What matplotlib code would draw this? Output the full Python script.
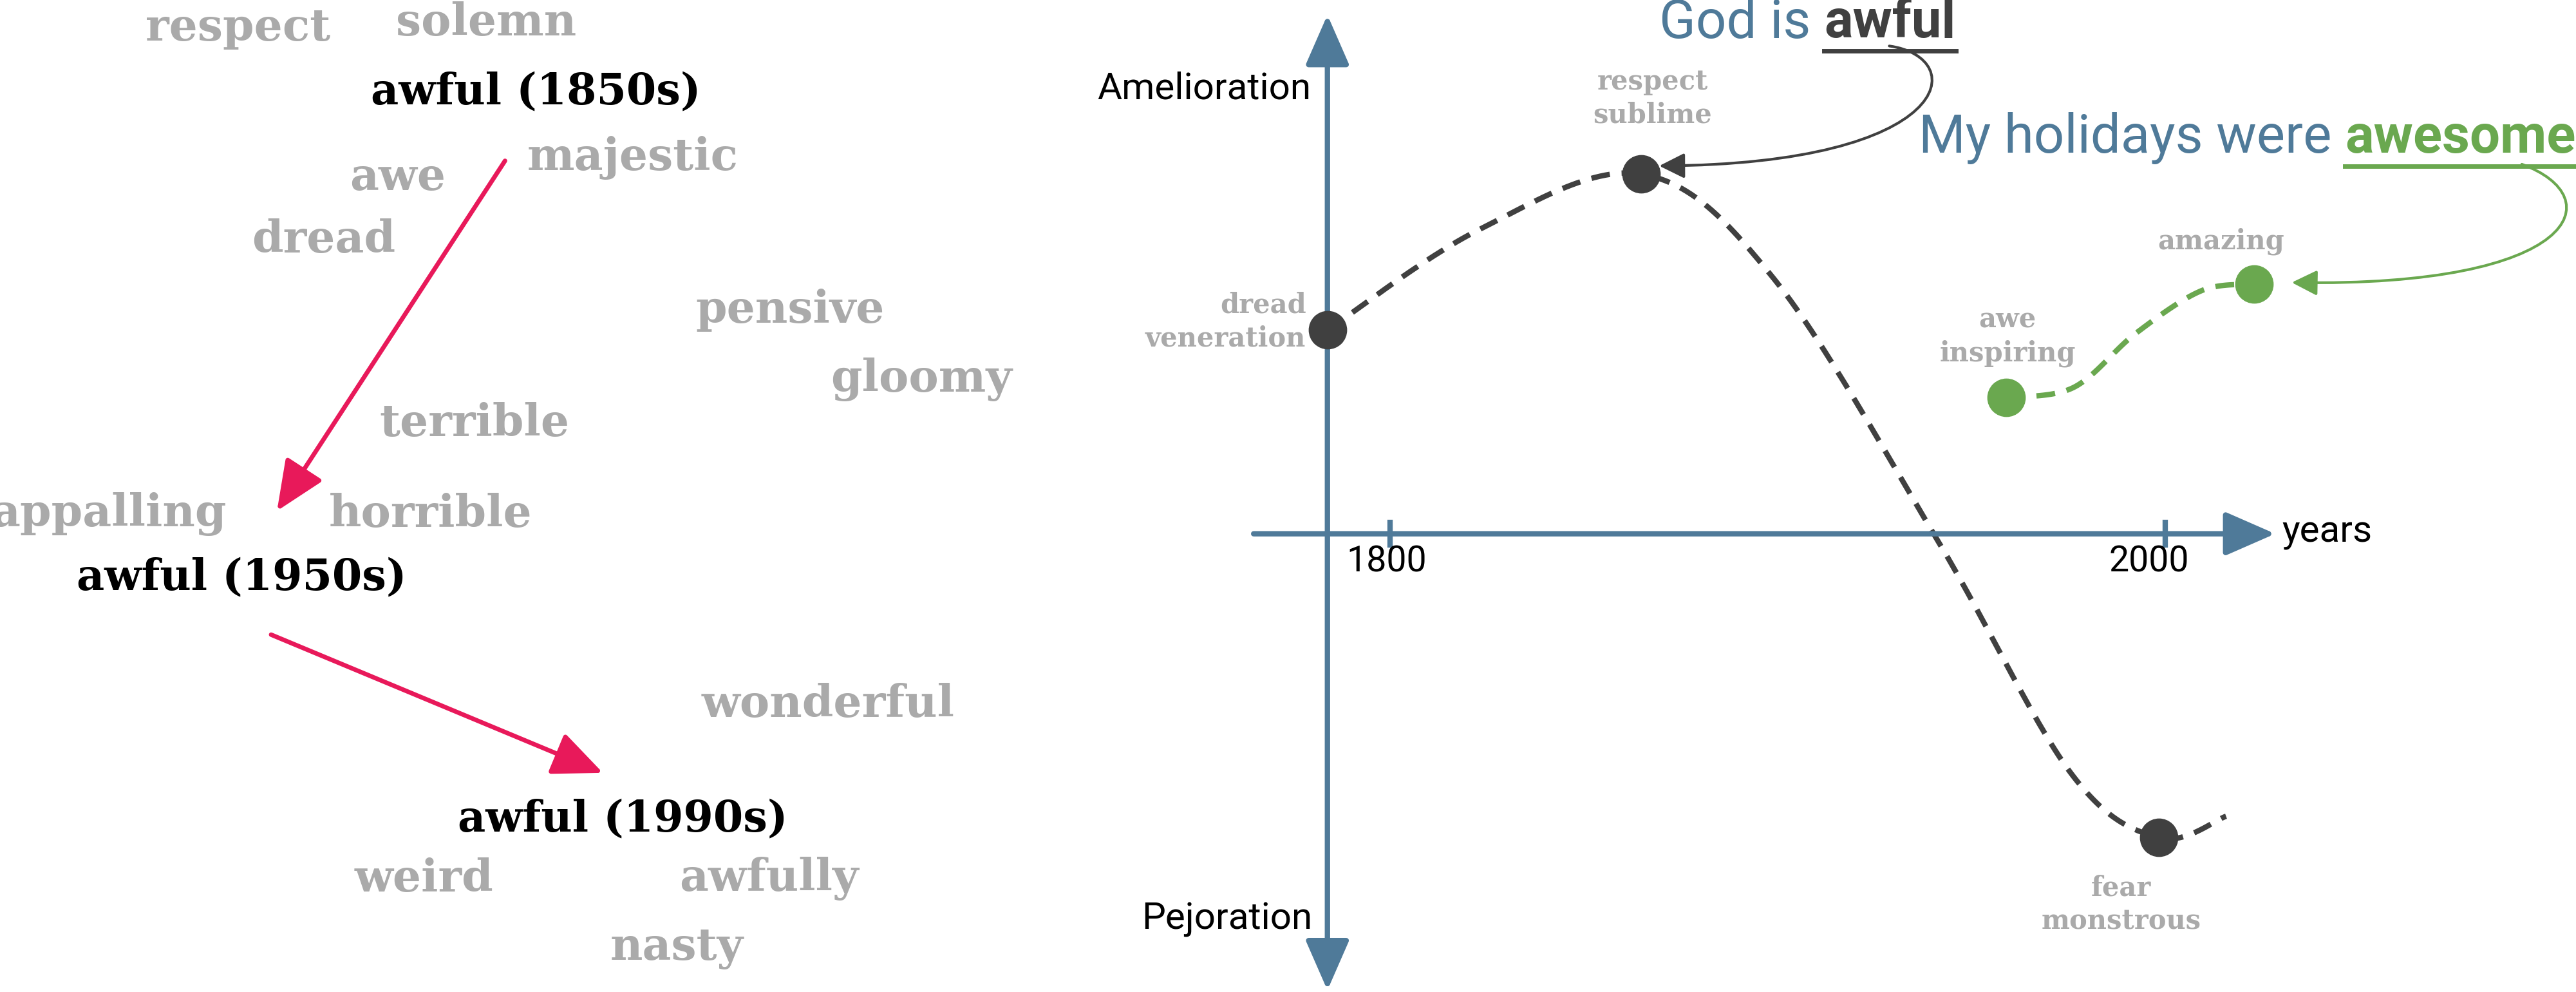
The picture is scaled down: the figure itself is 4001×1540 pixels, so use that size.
import matplotlib
matplotlib.use("Agg")
import matplotlib.pyplot as plt
import numpy as np
from matplotlib.path import Path
from matplotlib.patches import FancyArrowPatch

W, H = 1568, 604
# left: word embedding neighbours (x, y in reference layout units)
words = ["respect", "solemn", "awe", "majestic", "dread", "pensive", "gloomy", "terrible",
         "appalling", "horrible", "wonderful", "weird", "awfully", "nasty"]
words_x = [145, 296, 242, 385, 197, 481, 561, 289, 66, 262, 504, 258, 468, 412]
words_y = [17, 14, 108, 96, 146, 189, 231, 258, 313, 313, 429, 535, 535, 577]
decades = ["awful (1850s)", "awful (1950s)", "awful (1990s)"]
decades_x = [326, 147, 379]
decades_y = [56, 352, 499]
arrows = [((308, 97), (168, 312)), ((164, 386), (368, 471))]

# right: semantic change curves
black_x = [808, 900, 999, 1080, 1180, 1260, 1314, 1355]
black_y = [201, 140, 106, 170, 330, 470, 510, 497]
black_pts = [(808, 201), (999, 106), (1314, 510)]
green_x = [1221, 1262, 1300, 1340, 1372]
green_y = [242, 236, 203, 177, 173]
green_pts = [(1221, 242), (1372, 173)]
point_labels = ["dread\nveneration", "respect\nsublime", "fear\nmonstrous", "awe\ninspiring", "amazing"]
tick_labels = ["1800", "2000"]

BLUE = "#4f7a99"; GRAY = "#aaaaaa"; DARK = "#404040"; GREEN = "#6aa84f"; RED = "#e8195a"

def catmull(xs, ys, n=30):
    P = np.array(list(zip(xs, ys)), float)
    P = np.vstack([P[0], P, P[-1]])
    out = []
    for i in range(1, len(P) - 2):
        p0, p1, p2, p3 = P[i-1], P[i], P[i+1], P[i+2]
        for t in np.linspace(0, 1, n, endpoint=False):
            out.append(0.5*((2*p1) + (-p0+p2)*t + (2*p0-5*p1+4*p2-p3)*t**2 + (-p0+3*p1-3*p2+p3)*t**3))
    out.append(P[-2])
    return np.array(out)

fig = plt.figure(figsize=(40.01, 15.4), dpi=100)
ax = fig.add_axes([0, 0, 1, 1])
ax.set_xlim(0, W); ax.set_ylim(H, 0); ax.axis("off")

SERIF = "DejaVu Serif"
SANS = ["Roboto", "DejaVu Sans"]
for w, x, y in zip(words, words_x, words_y):
    ax.text(x, y, w, family=SERIF, fontsize=50, fontweight="bold", color=GRAY, ha="center", va="center")
for w, x, y in zip(decades, decades_x, decades_y):
    ax.text(x, y, w, family=SERIF, fontsize=48, fontweight="bold", color="black", ha="center", va="center")
for a, b in arrows:
    ax.annotate("", xy=b, xytext=a, arrowprops=dict(arrowstyle="-|>,head_length=0.8,head_width=0.35",
                color=RED, lw=5, mutation_scale=60))

# axes
ax.annotate("", xy=(808, 8), xytext=(808, 604),
            arrowprops=dict(arrowstyle="<|-|>,head_length=0.8,head_width=0.35", color=BLUE, lw=6, mutation_scale=60))
ax.annotate("", xy=(1386, 325), xytext=(762, 325),
            arrowprops=dict(arrowstyle="-|>,head_length=0.8,head_width=0.35", color=BLUE, lw=6, mutation_scale=60))
for tx, lab in zip([846, 1318], tick_labels):
    ax.plot([tx, tx], [318, 332], color=BLUE, lw=6)
    ax.text(tx - 2 if lab == "1800" else tx - 10, 342, lab, family=SANS, fontsize=40, ha="center", va="center")
ax.text(733, 54, "Amelioration", family=SANS, fontsize=42, ha="center", va="center")
ax.text(747, 560, "Pejoration", family=SANS, fontsize=42, ha="center", va="center")
ax.text(1389, 324, "years", family=SANS, fontsize=42, ha="left", va="center")

bc = catmull(black_x, black_y)
ax.plot(bc[:, 0], bc[:, 1], color=DARK, lw=6, ls=(0, (3.5, 2.2)))
gc = catmull(green_x, green_y)
ax.plot(gc[:, 0], gc[:, 1], color=GREEN, lw=6, ls=(0, (3.5, 2.2)))
for x, y in black_pts:
    ax.plot(x, y, "o", color=DARK, ms=42, zorder=5)
for x, y in green_pts:
    ax.plot(x, y, "o", color=GREEN, ms=42, zorder=5)

lab_pos = [(795, 196, "right"), (1006, 60, "center"), (1291, 551, "center"), (1222, 205, "center"), (1352, 147, "center")]
for t, (x, y, ha) in zip(point_labels, lab_pos):
    ax.text(x, y, t, family=SERIF, fontsize=30, fontweight="bold", color=GRAY, ha=ha, va="center", linespacing=1.3)

# titles with underlined keyword
fig.canvas.draw()
r = fig.canvas.get_renderer()
def title(x, y, pre, key, kcolor):
    t1 = ax.text(x, y, pre, family=SANS, fontsize=60, color=BLUE, ha="left", va="center")
    bb = t1.get_window_extent(r)
    x2 = ax.transData.inverted().transform((bb.x1, 0))[0]
    t2 = ax.text(x2, y, key, family=SANS, fontsize=60, fontweight="bold", color=kcolor, ha="left", va="center")
    bb2 = t2.get_window_extent(r)
    x3 = ax.transData.inverted().transform((bb2.x1, 0))[0]
    ax.plot([x2, x3], [y + 17, y + 17], color=kcolor, lw=5)
    return x3
title(1010, 14, "God is ", "awful", DARK)
title(1168, 84, "My holidays were ", "awesome", GREEN)

p1 = Path([(1150, 28), (1200, 35), (1190, 100), (1010, 101)], [Path.MOVETO, Path.CURVE4, Path.CURVE4, Path.CURVE4])
ax.add_patch(FancyArrowPatch(path=p1, arrowstyle="-|>,head_length=0.6,head_width=0.3", color=DARK, lw=3, mutation_scale=40))
p2 = Path([(1535, 100), (1590, 120), (1570, 175), (1395, 172)], [Path.MOVETO, Path.CURVE4, Path.CURVE4, Path.CURVE4])
ax.add_patch(FancyArrowPatch(path=p2, arrowstyle="-|>,head_length=0.6,head_width=0.3", color=GREEN, lw=3, mutation_scale=40))

fig.savefig("out.png", dpi=100)
